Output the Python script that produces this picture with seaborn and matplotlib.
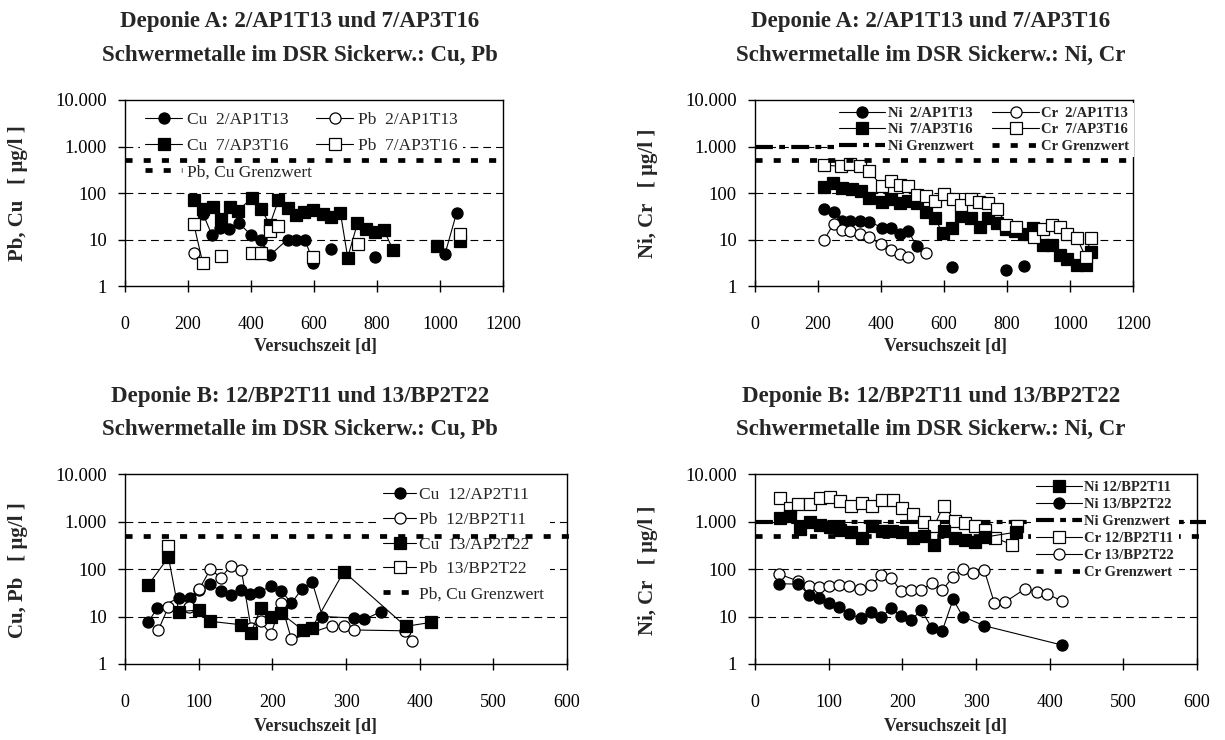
import numpy as np
import pandas as pd
import matplotlib
matplotlib.use("Agg")
import matplotlib.pyplot as plt
from matplotlib.lines import Line2D
from matplotlib.ticker import FixedLocator, FixedFormatter, NullLocator
import seaborn as sns

sns.set_theme(style="white")
plt.rcParams["font.family"] = ["Liberation Serif", "DejaVu Serif"]
plt.rcParams["axes.unicode_minus"] = False

nan = np.nan

# ---------------- Deponie A: Cu / Pb ----------------
a_cu2_day = [248, 276, 302, 329, 361, 400, 432, 460, 516, 543, 571, 598, 625, 653, 720, 795, 900, 1016, 1053]
a_cu2_val = [35, 12.5, 18, 17, 22.5, 12.6, 9.7, 4.6, 10, 10, 10, 3.2, nan, 6.3, nan, 4.3, nan, 4.9, 38]
a_pb2_day = [218]
a_pb2_val = [5.0]
a_cu7_day = [218, 247, 279, 305, 332, 360, 403, 432, 460, 487, 516, 543, 569, 598, 627, 654, 684,
             707, 738, 765, 794, 822, 851, 920, 989, 1030, 1063]
a_cu7_val = [69, 45, 51, 28, 51, 42, 79, 45, 21, 70, 47, 34, 40, 44, 35, 31, 37,
             4.1, 22.5, 17, 14.8, 15.8, 6.0, nan, 7.2, nan, 9.3]
a_pb7_day = [218, 247, 275, 305, 350, 403, 432, 460, 487, 540, 598, 670, 740, 900, 1063]
a_pb7_val = [22, 3.1, nan, 4.5, nan, 5.0, 5.0, 15.5, 20, nan, 4.3, nan, 8.2, nan, 13]

# ---------------- Deponie A: Ni / Cr ----------------
a_ni2_day = [220, 250, 277, 303, 333, 363, 404, 433, 460, 487, 513, 570, 626, 700, 798, 830, 855]
a_ni2_val = [46, 40, 25.5, 25.5, 25.5, 24, 18, 18, 13, 15.4, 7.1, nan, 2.5, nan, 2.25, nan, 2.65]
a_cr2_day = [220, 250, 277, 303, 333, 363, 400, 431, 460, 487, 515, 542]
a_cr2_val = [10, 22, 16, 15.4, 13, 11.2, 7.9, 5.9, 4.9, 4.2, nan, 5.0]
a_ni7_day = [220, 249, 277, 307, 335, 363, 402, 431, 460, 487, 513, 542, 570, 597, 626, 655, 685,
             713, 741, 769, 798, 826, 855, 883, 913, 943, 969, 992, 1022, 1050, 1066]
a_ni7_val = [133, 161, 127, 121, 113, 79, 65, 76, 60, 67, 62, 40, 29, 13.5, 17.5, 31.6, 29,
             18.7, 29, 23, 17, 15.4, 13.2, 17.5, 7.5, 7.5, 4.6, 3.8, 2.8, 2.8, 5.5]
a_cr7_day = [220, 273, 303, 333, 363, 402, 431, 460, 487, 513, 542, 570, 600, 628, 655, 685, 712,
             741, 769, 798, 828, 886, 913, 943, 969, 992, 1022, 1050, 1066]
a_cr7_val = [395, 377, 429, 377, 297, 140, 184, 149, 140, 89, 85, 67, 97, 74, 54, 74, 65,
             61, 45, 20.6, 18.7, 11.2, 16.7, 20.6, 18.7, 13, 10.7, 4.2, 11]

# ---------------- Deponie B: Cu / Pb ----------------
b_cu12_day = [31, 44, 73, 88, 101, 116, 130, 144, 158, 170, 182, 198, 212, 226, 240, 254, 268, 311, 325, 347]
b_cu12_val = [7.5, 15, 24.5, 24.5, 36, 48, 34, 29, 37, 30, 33, 43, 35, 19, 38, 54, 10, 9.3, 8.7, 12.5]
b_pb12_day = [45, 59, 87, 101, 116, 130, 144, 158, 171, 184, 198, 212, 226, 281, 297, 311, 380, 389]
b_pb12_val = [5.1, 16, 16, 38, 100, 65, 118, 95, 5.8, 7.9, 4.2, 18.8, 3.3, 6.4, 6.4, 5.2, 5.0, 3.1]
b_cu13_day = [31, 59, 73, 101, 116, 158, 171, 184, 198, 212, 241, 254, 297, 381, 415]
b_cu13_val = [45, 177, 12.7, 13.7, 7.9, 6.7, 4.5, 14.8, 9.7, 11.7, 5.2, 5.8, 88, 6.2, 7.5]
b_pb13_day = [59]
b_pb13_val = [300]

# ---------------- Deponie B: Ni / Cr ----------------
b_ni12_day = [34, 48, 61, 74, 88, 102, 116, 130, 145, 159, 173, 186, 200, 215, 229, 243, 256,
              272, 285, 299, 312, 354]
b_ni12_val = [1210, 1300, 700, 985, 840, 755, 675, 595, 450, 810, 640, 640, 595, 450, 490, 315, 640,
              450, 400, 370, 470, 595]
b_ni13_day = [32, 59, 73, 87, 100, 114, 128, 144, 157, 171, 185, 198, 212, 226, 240, 254, 269, 282, 311, 417]
b_ni13_val = [49, 48, 29, 24, 19, 16, 11.2, 9.2, 12.7, 9.7, 14.9, 10.3, 8.5, 13.7, 5.7, 4.9, 23, 10, 6.4, 2.5]
b_cr12_day = [34, 47, 59, 74, 88, 102, 116, 130, 145, 159, 173, 187, 200, 215, 229, 243, 256,
              272, 285, 299, 312, 326, 349, 355]
b_cr12_val = [3100, 1940, 2340, 2380, 3100, 3240, 2650, 2090, 2460, 2160, 2850, 2850, 1940, 1450, 980, 790, 2160,
              1030, 950, 810, 675, 450, 325, 810]
b_cr13_day = [32, 58, 73, 87, 100, 114, 128, 143, 157, 171, 185, 198, 212, 226, 240, 254, 269, 282,
              296, 311, 325, 340, 367, 383, 397, 417]
b_cr13_val = [79, 56, 44, 42, 44, 45, 43, 38.6, 45, 73, 65, 34, 35.6, 35.6, 51, 35.6, 69, 100,
              83, 97, 19, 20.4, 38.6, 33, 29.7, 21]

# limit values (Grenzwerte)
grenz_pb_cu = 500
grenz_ni = 1000
grenz_cr = 500

y_ticks = [1, 10, 100, 1000, 10000]
y_tick_labels = ["1", "10", "100", "1.000", "10.000"]
grid_levels = [10, 100, 1000]

W, H = 1225, 740
fig = plt.figure(figsize=(W / 100, H / 100), dpi=100)

DOT = dict(color="black", lw=3.4, dashes=(1.5, 2.35), solid_capstyle="butt", dash_capstyle="butt")
DASHDOT = dict(color="black", lw=3.0, dashes=(4.3, 1.5, 1.4, 1.5), dash_capstyle="butt")


def px_axes(left, top, right, bottom):
    return fig.add_axes([left / W, 1 - bottom / H, (right - left) / W, (bottom - top) / H])


def draw_series(ax, days, vals, marker, filled, ms=8):
    df = pd.DataFrame({"d": days, "v": vals})
    df["seg"] = df["v"].isna().cumsum()
    df = df.dropna()
    sns.lineplot(data=df, x="d", y="v", units="seg", estimator=None, sort=False, ax=ax,
                 color="black", lw=0.8, marker=marker, markersize=ms,
                 markerfacecolor="black" if filled else "white",
                 markeredgecolor="black", markeredgewidth=0.9, legend=False, zorder=6)


def style_axes(ax, xmax, xstep):
    ax.set_yscale("log")
    ax.set_xlim(0, xmax)
    ax.set_ylim(1, 10000)
    ax.set_xticks(np.arange(0, xmax + 1, xstep))
    ax.yaxis.set_major_locator(FixedLocator(y_ticks))
    ax.yaxis.set_major_formatter(FixedFormatter(y_tick_labels))
    ax.yaxis.set_minor_locator(NullLocator())
    ax.set_xlabel("")
    ax.set_ylabel("")
    for s in ax.spines.values():
        s.set_color("black")
        s.set_linewidth(1.0)
    ax.tick_params(axis="x", direction="inout", length=9, width=1, pad=17,
                   labelsize=13, colors="black", bottom=True)
    ax.tick_params(axis="y", direction="out", length=5, width=1, pad=8,
                   labelsize=13.5, colors="black", left=True)
    for y in grid_levels:
        ax.axhline(y, color="black", lw=0.8, dashes=(7, 4.5), zorder=1)


def handle(marker, filled):
    return Line2D([0], [0], color="black", lw=0.8, marker=marker, markersize=8,
                  markerfacecolor="black" if filled else "white",
                  markeredgecolor="black", markeredgewidth=0.9)


def text(x, y, s, size, **kw):
    fig.text(x / W, 1 - y / H, s, ha="center", va="center", fontsize=size, **kw)


LEG = dict(borderaxespad=0, frameon=True, fancybox=False, facecolor="white",
           edgecolor="none", framealpha=1)

# ---- panel: Deponie A, Cu/Pb ----
ax1 = px_axes(125, 100, 503, 286)
draw_series(ax1, a_cu2_day, a_cu2_val, "o", True)
draw_series(ax1, a_pb2_day, a_pb2_val, "o", False)
draw_series(ax1, a_cu7_day, a_cu7_val, "s", True)
draw_series(ax1, a_pb7_day, a_pb7_val, "s", False)
style_axes(ax1, 1200, 200)
ax1.axhline(grenz_pb_cu, zorder=7, **DOT)
h_grenz_dot = Line2D([0], [0], **DOT)
leg = ax1.legend([handle("o", True), handle("s", True), h_grenz_dot, handle("o", False), handle("s", False)],
                 ["Cu  2/AP1T13", "Cu  7/AP3T16", "Pb, Cu Grenzwert", "Pb  2/AP1T13", "Pb  7/AP3T16"],
                 ncol=2, loc="upper left", bbox_to_anchor=(0.04, 0.965), fontsize=12.5,
                 labelspacing=0.58, handlelength=2.1, handletextpad=0.3, columnspacing=0.25,
                 borderpad=0.3, **LEG)
leg.set_zorder(5)

# ---- panel: Deponie A, Ni/Cr ----
ax2 = px_axes(755, 100, 1133, 286)
draw_series(ax2, a_ni2_day, a_ni2_val, "o", True)
draw_series(ax2, a_cr2_day, a_cr2_val, "o", False)
draw_series(ax2, a_ni7_day, a_ni7_val, "s", True)
draw_series(ax2, a_cr7_day, a_cr7_val, "s", False)
style_axes(ax2, 1200, 200)
ax2.axhline(grenz_ni, zorder=2, **DASHDOT)
ax2.axhline(grenz_cr, zorder=7, **DOT)
leg = ax2.legend([handle("o", True), handle("s", True), Line2D([0], [0], **DASHDOT),
                  handle("o", False), handle("s", False), Line2D([0], [0], **DOT)],
                 ["Ni  2/AP1T13", "Ni  7/AP3T16", "Ni Grenzwert",
                  "Cr  2/AP1T13", "Cr  7/AP3T16", "Cr Grenzwert"],
                 ncol=2, loc="upper left", bbox_to_anchor=(0.21, 0.985),
                 prop={"size": 10.5, "weight": "bold"},
                 labelspacing=0.2, handlelength=3.2, handletextpad=0.15, columnspacing=1.3,
                 borderpad=0.3, **LEG)
leg.set_zorder(5)

# ---- panel: Deponie B, Cu/Pb ----
ax3 = px_axes(125, 474, 567, 664)
draw_series(ax3, b_cu12_day, b_cu12_val, "o", True)
draw_series(ax3, b_pb12_day, b_pb12_val, "o", False)
draw_series(ax3, b_pb13_day, b_pb13_val, "s", False)
draw_series(ax3, b_cu13_day, b_cu13_val, "s", True)
style_axes(ax3, 600, 100)
ax3.axhline(grenz_pb_cu, xmax=1.015, clip_on=False, zorder=7, **DOT)
leg = ax3.legend([handle("o", True), handle("o", False), handle("s", True), handle("s", False), h_grenz_dot],
                 ["Cu  12/AP2T11", "Pb  12/BP2T11", "Cu  13/AP2T22", "Pb  13/BP2T22", "Pb, Cu Grenzwert"],
                 ncol=1, loc="upper left", bbox_to_anchor=(0.572, 0.96), fontsize=12.5,
                 labelspacing=0.5, handlelength=1.9, handletextpad=0.2,
                 borderpad=0.3, **LEG)
leg.set_zorder(5)

# ---- panel: Deponie B, Ni/Cr ----
ax4 = px_axes(755, 474, 1197, 664)
draw_series(ax4, b_cr12_day, b_cr12_val, "s", False)
draw_series(ax4, b_ni12_day, b_ni12_val, "s", True)
draw_series(ax4, b_cr13_day, b_cr13_val, "o", False)
draw_series(ax4, b_ni13_day, b_ni13_val, "o", True)
style_axes(ax4, 600, 100)
ax4.axhline(grenz_ni, xmax=1.02, clip_on=False, zorder=2, **DASHDOT)
ax4.axhline(grenz_cr, xmax=1.02, clip_on=False, zorder=2, **DOT)
leg = ax4.legend([handle("s", True), handle("o", True), Line2D([0], [0], **DASHDOT),
                  handle("s", False), handle("o", False), Line2D([0], [0], **DOT)],
                 ["Ni 12/BP2T11", "Ni 13/BP2T22", "Ni Grenzwert",
                  "Cr 12/BP2T11", "Cr 13/BP2T22", "Cr Grenzwert"],
                 ncol=1, loc="upper left", bbox_to_anchor=(0.625, 0.985),
                 prop={"size": 10.5, "weight": "bold"},
                 labelspacing=0.25, handlelength=3.2, handletextpad=0.15,
                 borderpad=0.3, **LEG)
leg.set_zorder(5)

# ---- titles and axis labels ----
title_a = "Deponie A: 2/AP1T13 und 7/AP3T16"
title_b = "Deponie B: 12/BP2T11 und 13/BP2T22"
TS = 16.5
text(300, 22, title_a, TS, weight="bold")
text(300, 55, "Schwermetalle im DSR Sickerw.: Cu, Pb", TS, weight="bold")
text(931, 22, title_a, TS, weight="bold")
text(931, 55, "Schwermetalle im DSR Sickerw.: Ni, Cr", TS, weight="bold")
text(300, 397, title_b, TS, weight="bold")
text(300, 429, "Schwermetalle im DSR Sickerw.: Cu, Pb", TS, weight="bold")
text(931, 397, title_b, TS, weight="bold")
text(931, 429, "Schwermetalle im DSR Sickerw.: Ni, Cr", TS, weight="bold")

for xc, yc in [(316, 347), (946, 347), (316, 727), (946, 727)]:
    text(xc, yc, "Versuchszeit [d]", 13, weight="bold")

YS = 15
text(18, 193, "Pb, Cu   [ µg/l ]", YS, weight="bold", rotation=90)
text(648, 193, "Ni, Cr   [ µg/l ]", YS, weight="bold", rotation=90)
text(18, 570, "Cu, Pb   [ µg/l ]", YS, weight="bold", rotation=90)
text(648, 570, "Ni, Cr   [ µg/l ]", YS, weight="bold", rotation=90)

fig.savefig("out.png", dpi=100)
